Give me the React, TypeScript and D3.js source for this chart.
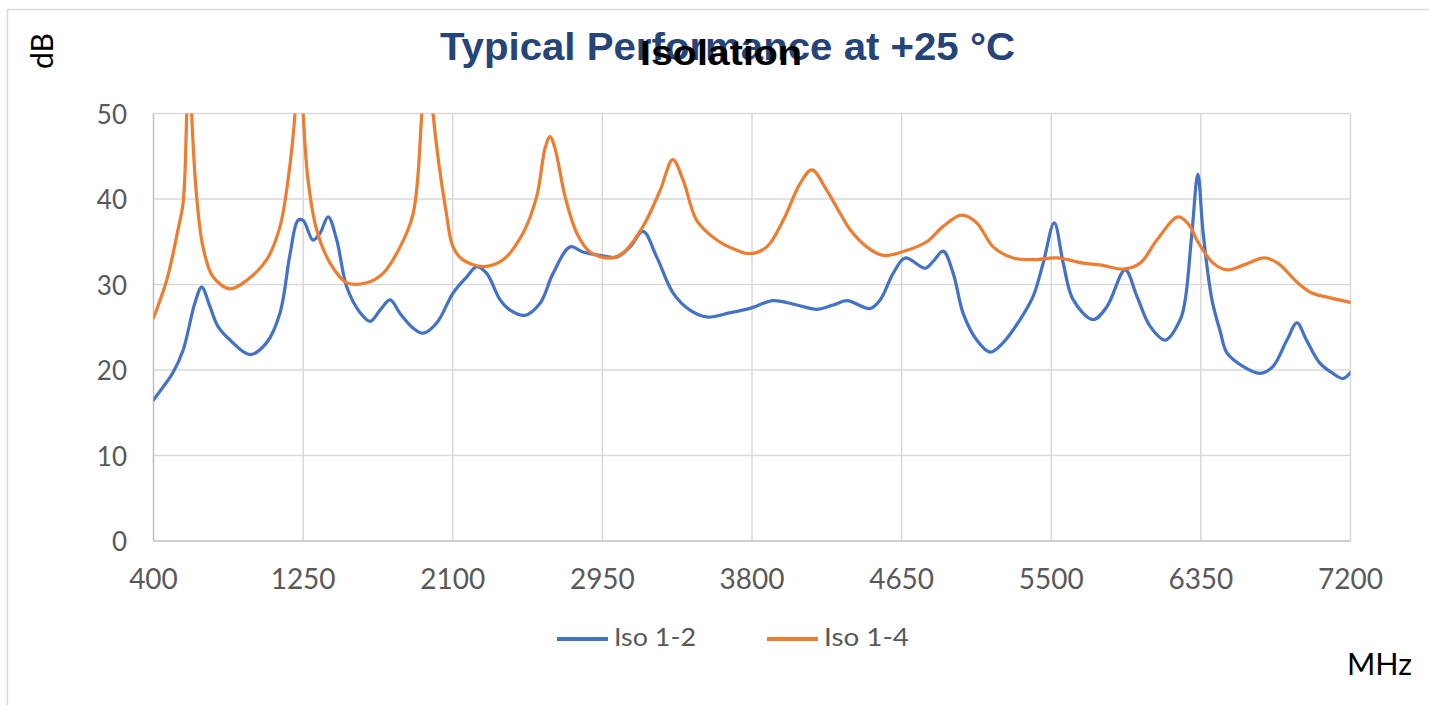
import React, { useEffect, useRef } from 'react';
import * as d3 from 'd3';

// frequency ticks (MHz) and dB ticks
const X_TICKS = [400, 1250, 2100, 2950, 3800, 4650, 5500, 6350, 7200];
const Y_TICKS = [0, 10, 20, 30, 40, 50];

const SERIES_NAMES = ['Iso 1-2', 'Iso 1-4'];
const SERIES_COLORS = ['#4472C4', '#ED7D31'];

// [MHz, dB]
const ISO_12: [number, number][] = [
  [400, 16.5], [454, 18.0], [511, 19.7], [568, 22.3], [636, 27.9], [674, 29.7], [721, 27.4],
  [766, 25.1], [835, 23.5], [948, 21.8], [1043, 23.2], [1119, 26.7], [1176, 33.6], [1221, 37.5],
  [1250, 37.5], [1306, 35.2], [1346, 36.0], [1392, 37.9], [1441, 35.2], [1498, 29.7], [1574, 26.7],
  [1631, 25.7], [1687, 27.0], [1744, 28.2], [1801, 26.6], [1875, 24.9], [1931, 24.3], [2009, 25.5],
  [2102, 29.0], [2180, 30.9], [2236, 32.1], [2293, 31.3], [2369, 28.2], [2426, 27.0], [2511, 26.4],
  [2596, 27.8], [2670, 31.3], [2767, 34.4], [2840, 33.8], [2937, 33.4], [3032, 33.2], [3107, 34.4],
  [3181, 36.2], [3259, 33.2], [3352, 29.0], [3448, 27.0], [3543, 26.2], [3676, 26.7], [3789, 27.2],
  [3920, 28.1], [4054, 27.6], [4168, 27.1], [4261, 27.6], [4339, 28.1], [4471, 27.2], [4528, 28.2],
  [4602, 31.3], [4670, 33.1], [4784, 31.9], [4829, 32.7], [4886, 33.9], [4943, 31.3], [5000, 26.6],
  [5077, 23.5], [5153, 22.1], [5227, 23.2], [5323, 25.9], [5397, 28.6], [5454, 32.5], [5517, 37.2],
  [5568, 32.5], [5625, 28.2], [5738, 25.9], [5816, 27.4], [5920, 31.7], [5987, 28.6], [6062, 25.1],
  [6148, 23.5], [6233, 25.9], [6261, 28.2], [6299, 36.0], [6333, 42.9], [6363, 36.0], [6413, 28.2],
  [6460, 24.5], [6498, 22.0], [6591, 20.4], [6686, 19.6], [6759, 20.4], [6839, 23.5], [6896, 25.5],
  [6950, 23.5], [7026, 20.8], [7100, 19.6], [7157, 19.0], [7200, 19.7],
];

const ISO_14: [number, number][] = [
  [400, 26.1], [475, 30.5], [539, 36.4], [568, 39.5], [589, 50], [605, 60], [617, 50], [645, 40.3],
  [681, 34.4], [738, 30.9], [835, 29.5], [930, 30.5], [1043, 32.9], [1119, 36.8], [1164, 42.2],
  [1204, 50], [1227, 60], [1250, 50], [1278, 42.2], [1327, 36.4], [1403, 32.5], [1498, 30.2],
  [1611, 30.2], [1704, 31.3], [1801, 34.4], [1875, 38.3], [1924, 50], [1954, 62], [1988, 50],
  [2066, 38.0], [2100, 34.5], [2150, 33.0], [2272, 32.1], [2386, 32.9], [2499, 36.0], [2577, 40.3],
  [2625, 46.0], [2653, 47.3], [2680, 46.0], [2738, 40.3], [2805, 36.0], [2880, 33.8], [2994, 33.1],
  [3068, 33.7], [3181, 36.8], [3278, 41.0], [3350, 44.6], [3409, 42.2], [3486, 37.5], [3600, 35.2],
  [3714, 34.0], [3789, 33.6], [3884, 34.4], [3977, 37.5], [4073, 41.8], [4140, 43.4], [4225, 41.0],
  [4301, 38.3], [4358, 36.4], [4452, 34.4], [4545, 33.4], [4680, 34.0], [4793, 35.0], [4886, 36.8],
  [4992, 38.1], [5077, 37.2], [5170, 34.4], [5283, 33.1], [5397, 32.9], [5532, 33.1], [5681, 32.5],
  [5778, 32.3], [5909, 31.8], [6005, 32.5], [6100, 35.2], [6221, 37.9], [6289, 36.8], [6327, 35.2],
  [6420, 32.5], [6498, 31.7], [6596, 32.3], [6710, 33.1], [6787, 32.5], [6900, 30.2], [6980, 29.0],
  [7073, 28.5], [7200, 27.9],
];

const W = 1429;
const H = 705;
const TICK_FONT = 'Lato, "Open Sans", sans-serif';

export default function App() {
  const svgRef = useRef<SVGSVGElement | null>(null);

  useEffect(() => {
    if (!svgRef.current) return;
    const svg = d3.select(svgRef.current);
    svg.selectAll('*').remove();

    const x = d3.scaleLinear().domain([400, 7200]).range([153.5, 1350.5]);
    const y = d3.scaleLinear().domain([0, 50]).range([541, 113.5]);

    // chart frame
    svg.append('rect')
      .attr('x', 7.5).attr('y', 9.5).attr('width', 1440).attr('height', 720)
      .attr('fill', '#fff').attr('stroke', '#d9d9d9').attr('stroke-width', 1.5);

    svg.append('defs').append('clipPath').attr('id', 'plot-clip')
      .append('rect')
      .attr('x', x(400)).attr('y', y(50))
      .attr('width', x(7200) - x(400)).attr('height', y(0) - y(50));

    // gridlines
    const grid = svg.append('g').attr('stroke', '#d9d9d9').attr('stroke-width', 1.5);
    grid.selectAll('line.h').data(Y_TICKS.filter((t) => t > 0)).enter().append('line')
      .attr('x1', x(400)).attr('x2', x(7200))
      .attr('y1', (d) => y(d)).attr('y2', (d) => y(d));
    grid.selectAll('line.v').data(X_TICKS.filter((t) => t > 400)).enter().append('line')
      .attr('x1', (d) => x(d)).attr('x2', (d) => x(d))
      .attr('y1', y(0)).attr('y2', y(50));

    // axis lines
    const axis = svg.append('g').attr('stroke', '#bfbfbf').attr('stroke-width', 1.5);
    axis.append('line').attr('x1', x(400)).attr('x2', x(400)).attr('y1', y(0)).attr('y2', y(50));
    axis.append('line').attr('x1', x(400)).attr('x2', x(7200)).attr('y1', y(0)).attr('y2', y(0));

    // tick labels
    svg.append('g').selectAll('text').data(X_TICKS).enter().append('text')
      .attr('x', (d) => x(d)).attr('y', 589)
      .attr('text-anchor', 'middle')
      .attr('font-family', TICK_FONT).attr('font-size', 28).attr('fill', '#595959')
      .text((d) => String(d));
    svg.append('g').selectAll('text').data(Y_TICKS).enter().append('text')
      .attr('x', 127).attr('y', (d) => y(d))
      .attr('text-anchor', 'end').attr('dominant-baseline', 'central')
      .attr('font-family', TICK_FONT).attr('font-size', 26).attr('fill', '#595959')
      .text((d) => String(d));

    // series
    const line = d3.line<[number, number]>()
      .x((d) => x(d[0]))
      .y((d) => y(d[1]))
      .curve(d3.curveCatmullRom.alpha(0.5));
    const plot = svg.append('g').attr('clip-path', 'url(#plot-clip)');
    [ISO_12, ISO_14].forEach((s, i) => {
      plot.append('path')
        .attr('d', line(s) || '')
        .attr('fill', 'none')
        .attr('stroke', SERIES_COLORS[i])
        .attr('stroke-width', 3.25)
        .attr('stroke-linejoin', 'round')
        .attr('stroke-linecap', 'round');
    });

    // titles (they overlap in the original as well)
    svg.append('text')
      .attr('x', 727.5).attr('y', 60).attr('text-anchor', 'middle')
      .attr('font-family', '"Liberation Sans", Arial, sans-serif').attr('font-weight', 'bold')
      .attr('font-size', 38).attr('fill', '#264478')
      .attr('textLength', 575).attr('lengthAdjust', 'spacingAndGlyphs')
      .text('Typical Performance at +25 °C');
    svg.append('text')
      .attr('x', 721).attr('y', 65).attr('text-anchor', 'middle')
      .attr('font-family', '"Liberation Sans", Arial, sans-serif').attr('font-weight', 'bold')
      .attr('font-size', 35).attr('fill', '#000')
      .attr('textLength', 162).attr('lengthAdjust', 'spacingAndGlyphs')
      .text('Isolation');

    // axis titles
    svg.append('text')
      .attr('transform', 'translate(53,51) rotate(-90)')
      .attr('text-anchor', 'middle')
      .attr('font-family', TICK_FONT).attr('font-size', 30).attr('fill', '#000')
      .text('dB');
    svg.append('text')
      .attr('x', 1347).attr('y', 675)
      .attr('font-family', TICK_FONT).attr('font-size', 31).attr('fill', '#000')
      .attr('textLength', 65).attr('lengthAdjust', 'spacingAndGlyphs')
      .text('MHz');

    // legend
    const legendX = [557, 767];
    const legendW = [82, 85];
    const legend = svg.append('g');
    SERIES_NAMES.forEach((name, i) => {
      legend.append('line')
        .attr('x1', legendX[i]).attr('x2', legendX[i] + 51)
        .attr('y1', 639).attr('y2', 639)
        .attr('stroke', SERIES_COLORS[i]).attr('stroke-width', 4);
      legend.append('text')
        .attr('x', legendX[i] + 57).attr('y', 646)
        .attr('font-family', TICK_FONT).attr('font-size', 25).attr('fill', '#595959')
        .attr('textLength', legendW[i]).attr('lengthAdjust', 'spacingAndGlyphs')
        .text(name);
    });
  }, []);

  return (
    <svg
      ref={svgRef}
      width={W}
      height={H}
      style={{ position: 'absolute', left: 0, top: 0, background: '#fff', display: 'block' }}
    />
  );
}
